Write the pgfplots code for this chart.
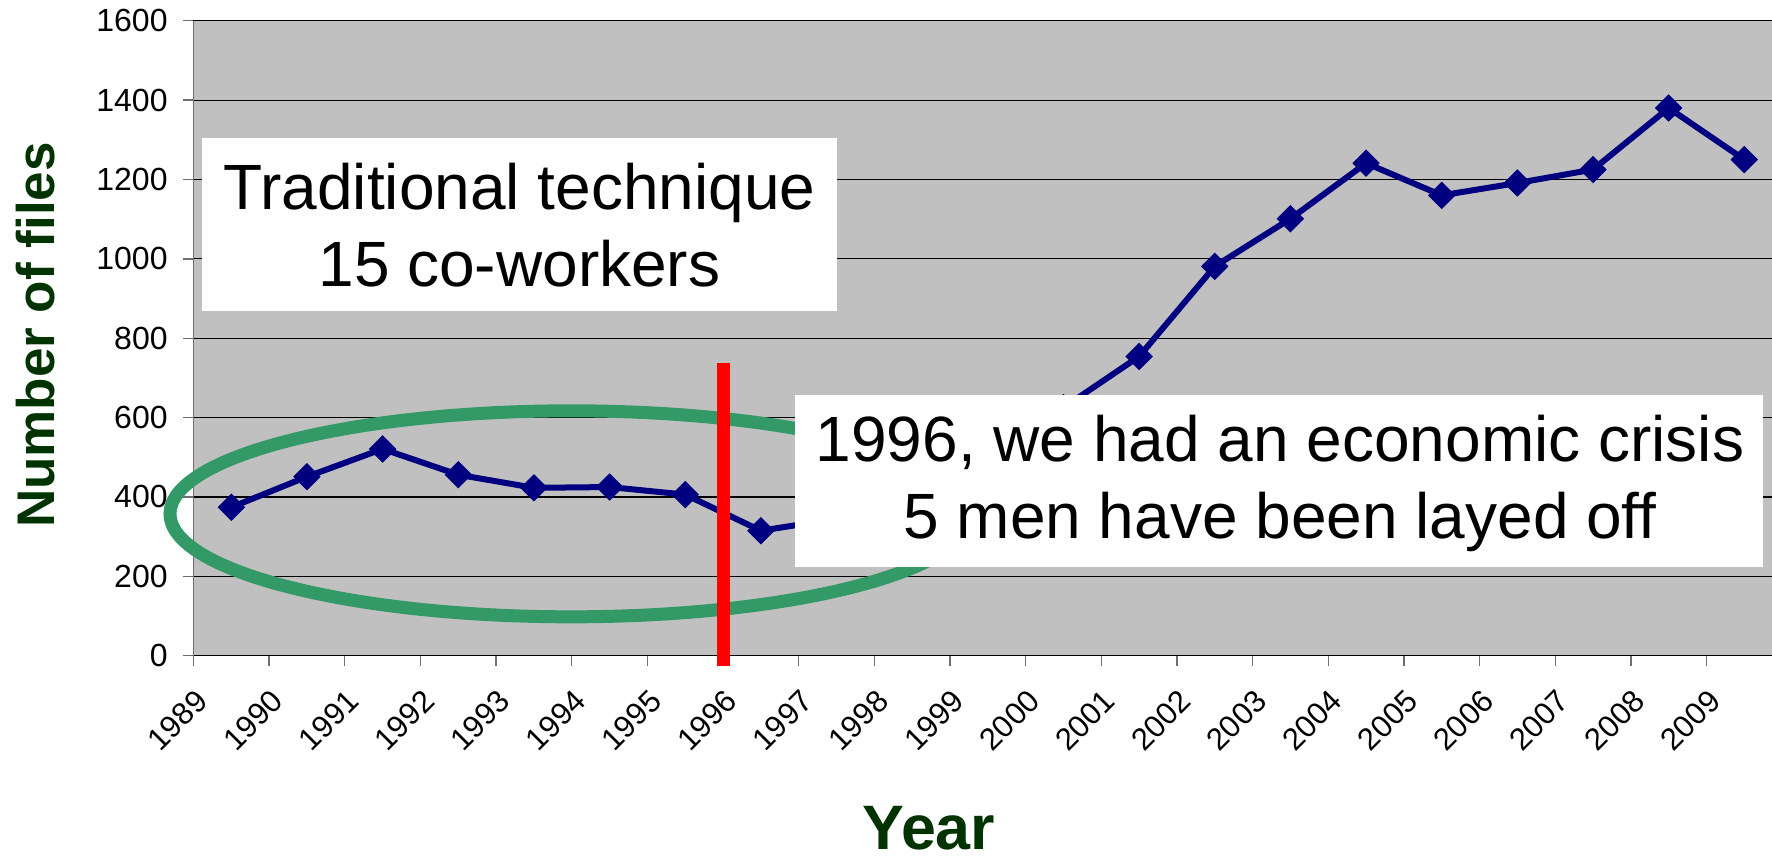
\documentclass[border=0pt]{standalone}
\usepackage{fontspec}
\setmainfont{Liberation Sans}
\usepackage{pgfplots}
\pgfplotsset{compat=1.18}
\definecolor{navyline}{HTML}{000080}
\definecolor{bggray}{HTML}{C0C0C0}
\definecolor{ellgreen}{HTML}{339966}
\definecolor{labgreen}{HTML}{003300}
\definecolor{axgray}{HTML}{6E6E6E}
\begin{document}
\begin{tikzpicture}
\begin{axis}[
  scale only axis,
  width=789.25pt, height=317.5pt,
  xmin=0, xmax=20.866, ymin=0, ymax=1600,
  clip=false,
  clip marker paths=true,
  axis x line*=bottom, axis y line*=left,
  axis line style={-},
  x axis line style={black, line width=0.7pt},
  y axis line style={axgray, line width=0.7pt},
  axis background/.style={fill=bggray},
  ytick={0,200,...,1600},
  xtick={0,...,20},
  xticklabels={1989,1990,1991,1992,1993,1994,1995,1996,1997,1998,1999,2000,2001,2002,2003,2004,2005,2006,2007,2008,2009},
  ymajorgrids,
  grid style={black, line width=0.55pt},
  tick align=outside,
  major tick length=5pt,
  tick style={axgray, line width=0.7pt},
  /pgf/number format/assume math mode=true,
  /pgf/number format/1000 sep={},
  yticklabel style={font=\fontsize{16}{19}\selectfont, inner sep=0pt, anchor=east, xshift=-7.75pt},
  xticklabel style={font=\fontsize{15.5}{18}\selectfont, inner sep=0pt, xshift=4.3pt, yshift=-15pt, rotate=45, anchor=east},
  ylabel={Number of files},
  ylabel style={at={(axis description cs:-0.09978,0.505)}, anchor=center, rotate=0, font=\fontsize{26.5}{30}\selectfont\bfseries, text=labgreen},
  xlabel={Year},
  xlabel style={at={(axis description cs:0.46595,-0.305)}, anchor=base, font=\fontsize{31.4}{36}\selectfont\bfseries, text=labgreen},
]
\addplot[navyline, line width=3pt, mark=square*, mark size=4.6pt,
  mark options={rotate=45, fill=navyline, draw=navyline, line width=0.5pt, solid}]
  coordinates {
  (0.5,374) (1.5,451) (2.5,521) (3.5,456) (4.5,423) (5.5,425) (6.5,406)
  (7.5,315) (8.5,345) (9.5,400) (10.5,500) (11.5,625) (12.5,754) (13.5,981)
  (14.5,1101) (15.5,1241) (16.5,1160) (17.5,1191) (18.5,1225) (19.5,1380) (20.5,1250)
  };
\draw[ellgreen, line width=6.5pt] (axis cs:4.99,357.5) ellipse [x radius=200.5pt, y radius=51.5pt];
\draw[red, line width=6.5pt] (axis cs:7,738) -- (axis cs:7,-26);
\fill[white] (axis cs:0.112,1304) rectangle (axis cs:8.51,869.8);
\node[font=\fontsize{32}{38.5}\selectfont, align=center, inner sep=0pt] at (axis cs:4.309,1085.2) {Traditional technique\\15 co-workers};
\fill[white] (axis cs:7.955,656.9) rectangle (axis cs:20.747,223.5);
\node[font=\fontsize{32}{38.5}\selectfont, align=center, inner sep=0pt] at (axis cs:14.362,434.1) {1996, we had an economic crisis\\5 men have been layed off};
\end{axis}
\pgfresetboundingbox
\path[use as bounding box] (-96.75pt,-101.65pt) rectangle (789.25pt,327.85pt);
\end{tikzpicture}
\end{document}
